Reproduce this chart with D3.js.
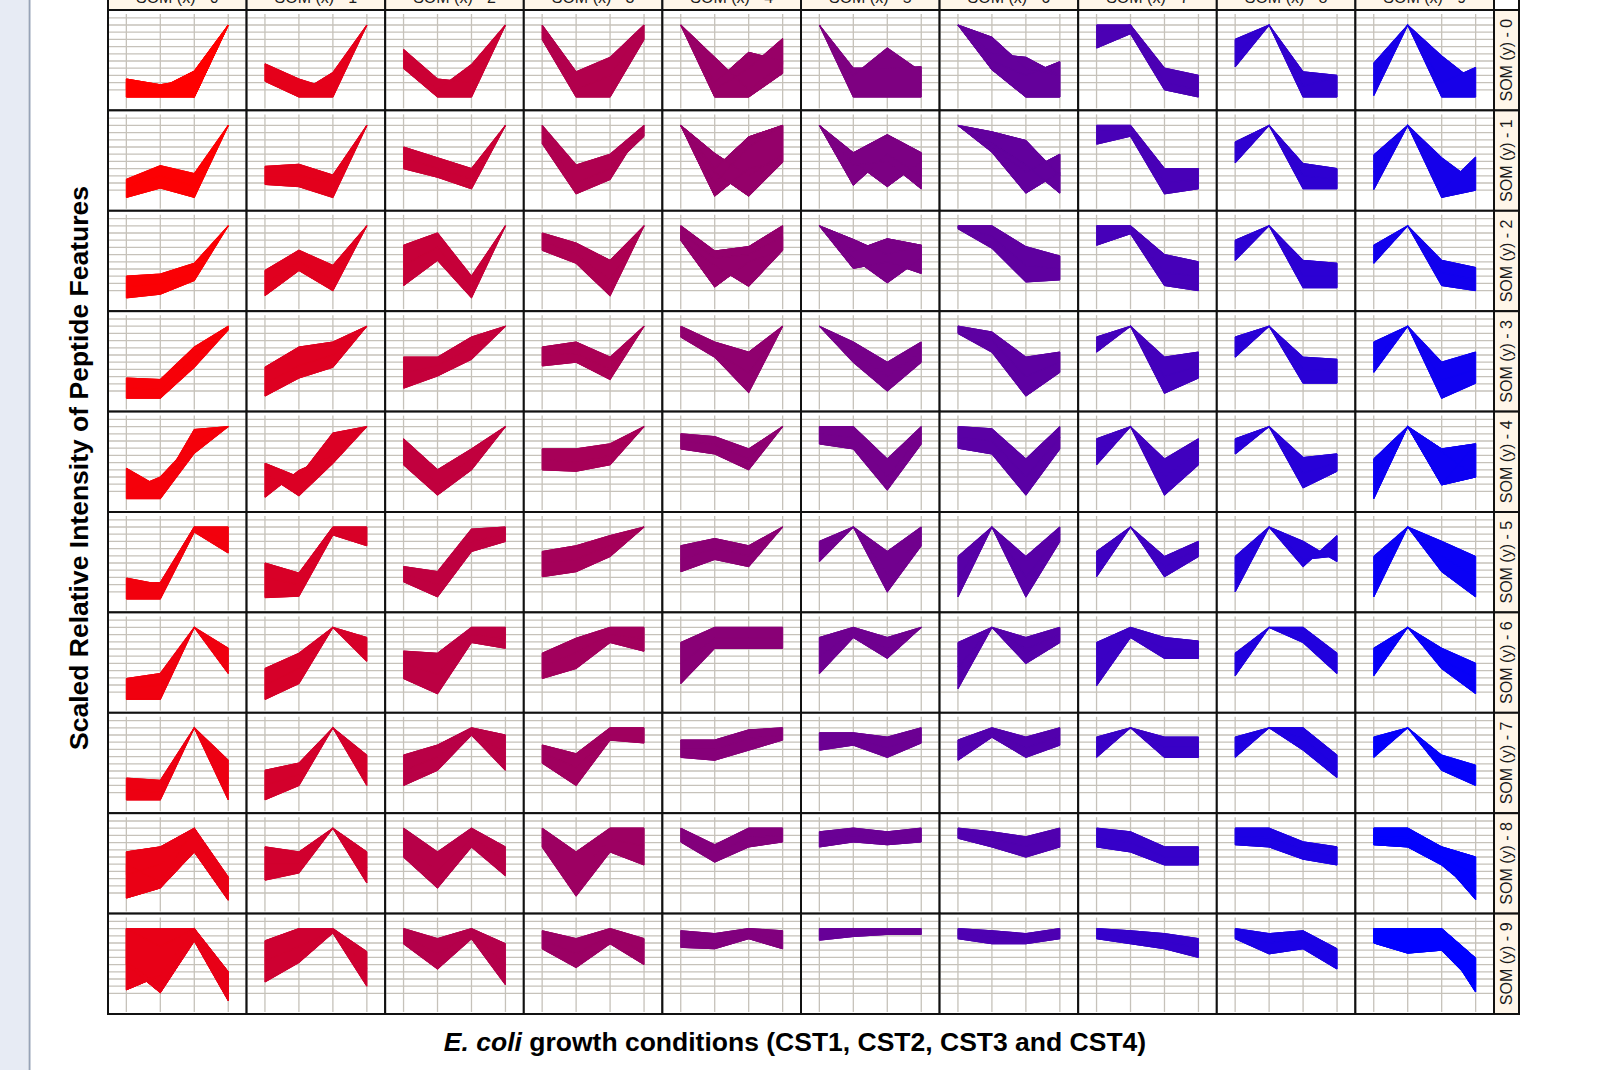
<!DOCTYPE html>
<html>
<head>
  <meta charset="utf-8">
  <title>SOM clusters of peptide features</title>
  <style>
    body { margin: 0; background: #fff; }
    text { font-family: "Liberation Sans", Arial, sans-serif; }
  </style>
</head>
<body>
<svg id="chart" width="1600" height="1070"></svg>
<script src="https://d3js.org/d3.v7.min.js"></script>
<script>
// growth conditions on the x axis of each panel
var conditions = ["CST1", "CST2", "CST3", "CST4"];
var colLabels = ["SOM (x) - 0", "SOM (x) - 1", "SOM (x) - 2", "SOM (x) - 3", "SOM (x) - 4",
                 "SOM (x) - 5", "SOM (x) - 6", "SOM (x) - 7", "SOM (x) - 8", "SOM (x) - 9"];
var rowLabels = ["SOM (y) - 0", "SOM (y) - 1", "SOM (y) - 2", "SOM (y) - 3", "SOM (y) - 4",
                 "SOM (y) - 5", "SOM (y) - 6", "SOM (y) - 7", "SOM (y) - 8", "SOM (y) - 9"];
var gridTicks = [0.1, 0.2, 0.3, 0.4, 0.5, 0.6, 0.7, 0.8, 0.9, 1.0, 1.1];

// each SOM cell: a few profiles (scaled intensity at CST1..CST4)
// the drawn bundle is everything between them
var somRow0 = [
  [[0.25,0.17,0.25,1],[0.1,0.12,0.36,1],[0,0,0,1],[0.2,0.15,0,1]],
  [[0.46,0.25,0.1,1],[0.3,0.05,0.34,1],[0.22,0,0,1]],
  [[0.66,0.25,0.2,1],[0.5,0.1,0.45,1],[0.4,0,0,1]],
  [[1,0.35,0.55,1],[0.8,0,0,0.8],[0.9,0.1,0.3,1]],
  [[1,0.55,0.1,0.45],[1,0.2,0.62,0.5],[1,0.1,0.4,0.81],[1,0,0,0.33]],
  [[1,0.4,0.4,0.42],[1,0.3,0.68,0.35],[1,0,0,0]],
  [[1,0.83,0.4,0.3],[1,0.6,0.55,0.3],[1,0.5,0.3,0.49],[1,0.38,0,0]],
  [[1,1,0.4,0.3],[0.68,0.88,0.1,0],[0.9,1,0.2,0.1]],
  [[0.8,1,0.35,0.3],[0.42,1,0,0],[0.6,1,0.15,0.28]],
  [[0.47,1,0.57,0.2],[0.02,1,0.2,0.41],[0.3,1,0,0]]
];
var somRow1 = [
  [[0.25,0.44,0.33,1],[0,0.13,0,1],[0.15,0.3,0.15,1]],
  [[0.43,0.46,0.31,1],[0.18,0.15,0,1],[0.3,0.3,0.2,1]],
  [[0.7,0.55,0.4,1],[0.4,0.28,0.12,1],[0.55,0.4,0.25,1]],
  [[1,0.45,0.6,1],[0.75,0.05,0.25,1],[0.9,0.2,0.4,0.85]],
  [[1,0.61,0.3,0.6],[1,0.4,0.84,1],[1,0.02,0.4,0.5],[1,0.35,0.02,0.49],[1,0.2,0.7,1]],
  [[1,0.62,0.87,0.62],[1,0.17,0.6,0.3],[1,0.5,0.15,0.5],[1,0.45,0.5,0.12]],
  [[1,0.91,0.79,0.3],[1,0.7,0.35,0.6],[1,0.63,0.06,0.35],[1,0.75,0.45,0.06]],
  [[1,1,0.4,0.4],[0.74,0.85,0.05,0.12],[0.95,0.9,0.2,0.25]],
  [[0.77,1,0.47,0.4],[0.48,1,0.12,0.12],[0.62,1,0.3,0.25]],
  [[0.59,1,0.55,0.2],[0.11,1,0.1,0.56],[0.35,1,0,0.1]]
];
var somRow2 = [
  [[0.3,0.33,0.48,1],[0,0.05,0.24,1],[0.15,0.2,0.35,1]],
  [[0.38,0.66,0.45,1],[0.03,0.38,0.1,1],[0.2,0.5,0.25,1]],
  [[0.73,0.9,0.3,1],[0.17,0.52,0,1],[0.45,0.7,0.15,1]],
  [[0.9,0.76,0.52,1],[0.66,0.48,0.03,1],[0.8,0.6,0.25,1]],
  [[1,0.65,0.71,1],[0.8,0.15,0.5,0.66],[0.8,0.45,0.16,0.66],[0.9,0.55,0.6,0.85]],
  [[1,0.81,0.6,0.73],[1,0.65,0.82,0.73],[1,0.41,0.5,0.34],[1,0.55,0.21,0.55]],
  [[1,1,0.71,0.58],[0.96,0.69,0.22,0.25],[1,0.85,0.45,0.4]],
  [[1,1,0.6,0.5],[0.73,0.89,0.17,0.1],[0.95,0.95,0.35,0.3]],
  [[0.8,1,0.52,0.48],[0.52,1,0.14,0.14],[0.66,1,0.3,0.3]],
  [[0.73,1,0.52,0.42],[0.48,1,0.17,0.1],[0.6,1,0.35,0.25]]
];
var somRow3 = [
  [[0.28,0.26,0.71,1],[0,0,0.43,0.95],[0.15,0.12,0.55,1]],
  [[0.43,0.71,0.78,1],[0.03,0.28,0.43,1],[0.2,0.45,0.6,1]],
  [[0.57,0.57,0.85,1],[0.14,0.31,0.54,1],[0.35,0.45,0.7,1]],
  [[0.71,0.78,0.57,1],[0.45,0.5,0.26,1],[0.6,0.62,0.4,1]],
  [[1,0.78,0.64,1],[0.85,0.57,0.08,1],[0.95,0.65,0.35,1]],
  [[1,0.78,0.5,0.78],[1,0.5,0.1,0.5],[1,0.65,0.3,0.65]],
  [[1,0.92,0.57,0.64],[0.9,0.64,0.03,0.36],[1,0.8,0.3,0.5]],
  [[0.85,1,0.57,0.64],[0.64,1,0.07,0.28],[0.75,1,0.3,0.45]],
  [[0.85,1,0.57,0.54],[0.57,1,0.21,0.21],[0.7,1,0.4,0.38]],
  [[0.78,1,0.5,0.64],[0.36,1,0,0.21],[0.55,1,0.25,0.4]]
];
var somRow4 = [
  [[0.42,0.15,0.96,1],[0.1,0.3,0.8,1],[0,0,0.63,1]],
  [[0.49,0.3,0.91,1],[0.02,0.39,0.6,1],[0.35,0.04,0.49,1]],
  [[0.83,0.4,0.69,1],[0.47,0.05,0.4,1],[0.65,0.2,0.55,1]],
  [[0.69,0.69,0.76,1],[0.4,0.38,0.47,1],[0.55,0.5,0.6,1]],
  [[0.9,0.86,0.69,1],[0.69,0.62,0.4,1],[0.8,0.75,0.55,1]],
  [[1,1,0.55,1],[0.76,0.69,0.12,0.76],[0.9,0.85,0.3,0.9]],
  [[1,0.97,0.55,1],[0.7,0.62,0.05,0.69],[0.85,0.8,0.3,0.85]],
  [[0.83,1,0.55,0.83],[0.47,1,0.05,0.47],[0.65,1,0.3,0.65]],
  [[0.83,1,0.57,0.62],[0.62,1,0.15,0.38],[0.72,1,0.35,0.5]],
  [[0.55,1,0.69,0.76],[0,1,0.19,0.3],[0.3,1,0.65,0.3],[0.3,1,0.2,0.76]]
];
var somRow5 = [
  [[0.29,0.2,1,1],[0,0,0.93,0.64],[0.2,0.23,1,0.8]],
  [[0.5,0.36,1,1],[0.02,0.04,0.89,0.74],[0.3,0.2,0.95,0.85]],
  [[0.45,0.38,0.97,1],[0.24,0.03,0.66,0.8],[0.35,0.2,0.8,0.9]],
  [[0.66,0.74,0.88,1],[0.31,0.38,0.59,1],[0.5,0.55,0.75,1]],
  [[0.74,0.84,0.74,1],[0.38,0.55,0.45,1],[0.55,0.7,0.6,1]],
  [[0.8,1,0.66,1],[0.52,1,0.1,0.74],[0.65,1,0.35,0.87]],
  [[0.59,1,0.59,1],[0.03,1,0.03,0.8],[0.3,1,0.3,0.9]],
  [[0.66,1,0.59,0.8],[0.31,1,0.31,0.59],[0.5,1,0.45,0.7]],
  [[0.59,1,0.8,0.52],[0.1,1,0.45,0.88],[0.35,1,0.55,0.6]],
  [[0.59,1,0.8,0.59],[0.03,1,0.38,0.03],[0.3,1,0.6,0.3]]
];
var somRow6 = [
  [[0.29,0.36,1,0.71],[0,0,1,0.36],[0.15,0.2,1,0.55]],
  [[0.43,0.64,1,0.86],[0,0.22,1,0.53],[0.2,0.43,1,0.7]],
  [[0.67,0.64,1,1],[0.29,0.08,0.79,0.71],[0.5,0.35,0.9,0.85]],
  [[0.64,0.85,1,1],[0.29,0.43,0.79,0.67],[0.45,0.65,0.9,0.85]],
  [[0.79,1,1,1],[0.22,0.71,0.71,0.71],[0.5,0.85,0.85,0.85]],
  [[0.86,1,0.86,1],[0.36,0.86,0.57,1],[0.6,0.93,0.7,1]],
  [[0.79,1,0.86,1],[0.15,1,0.5,0.79],[0.45,1,0.7,0.9]],
  [[0.79,1,0.86,0.81],[0.19,0.86,0.57,0.57],[0.5,0.93,0.7,0.7]],
  [[0.64,1,1,0.64],[0.33,1,0.79,0.36],[0.5,1,0.9,0.5]],
  [[0.71,1,0.71,0.5],[0.33,1,0.43,0.08],[0.5,1,0.55,0.3]]
];
var somRow7 = [
  [[0.3,0.27,1,0.55],[0,0,1,0],[0.15,0.1,1,0.3]],
  [[0.41,0.51,1,0.62],[0,0.2,1,0.2],[0.2,0.35,1,0.4]],
  [[0.62,0.76,1,0.9],[0.2,0.41,0.9,0.41],[0.4,0.6,0.95,0.65]],
  [[0.76,0.64,1,1],[0.51,0.2,0.83,0.79],[0.65,0.45,0.9,0.9]],
  [[0.83,0.83,0.97,1],[0.59,0.55,0.69,0.83],[0.7,0.7,0.85,0.9]],
  [[0.93,0.93,0.87,1],[0.69,0.76,0.59,0.79],[0.8,0.85,0.72,0.9]],
  [[0.83,1,0.87,1],[0.55,0.87,0.59,0.76],[0.7,0.93,0.72,0.88]],
  [[0.87,1,0.87,0.87],[0.59,1,0.59,0.59],[0.73,1,0.73,0.73]],
  [[0.87,1,1,0.62],[0.59,1,0.69,0.31],[0.73,1,0.85,0.45]],
  [[0.87,1,0.62,0.48],[0.59,1,0.41,0.2],[0.73,1,0.5,0.35]]
];
var somRow8 = [
  [[0.67,0.74,1,0.32],[0.03,0.17,0.67,0],[0.35,0.5,0.9,0.15],[0.5,0.25,1,0.2]],
  [[0.74,0.67,1,0.67],[0.28,0.38,1,0.24],[0.5,0.5,1,0.45]],
  [[1,0.67,1,0.74],[0.6,0.17,0.74,0.34],[0.8,0.4,0.87,0.55]],
  [[1,0.67,1,1],[0.74,0.06,0.67,0.49],[0.87,0.35,0.85,0.75]],
  [[1,0.77,1,1],[0.81,0.53,0.74,0.81],[0.9,0.65,0.87,0.9]],
  [[0.95,1,0.95,1],[0.74,0.81,0.77,0.81],[0.85,0.9,0.86,0.9]],
  [[1,0.95,0.88,1],[0.86,0.74,0.6,0.74],[0.93,0.85,0.75,0.87]],
  [[1,0.95,0.74,0.74],[0.74,0.67,0.49,0.49],[0.87,0.8,0.6,0.6]],
  [[1,1,0.81,0.74],[0.77,0.74,0.57,0.49],[0.88,0.87,0.7,0.6]],
  [[1,1,0.74,0.6],[0.77,0.74,0.49,0.1],[0.88,0.87,0.6,0.35],[0.85,0.8,0.55,0.01]]
];
var somRow9 = [
  [[1,1,1,0.4],[0.15,0.35,1,0.05],[0.5,0.11,0.83,0],[1,0.75,1,0.2],[0.55,0.2,0.9,0.1]],
  [[0.83,1,1,0.68],[0.26,0.53,0.94,0.2],[0.55,0.75,0.97,0.45]],
  [[1,0.86,1,0.79],[0.79,0.44,0.86,0.22],[0.9,0.65,0.93,0.5]],
  [[0.97,0.86,1,0.86],[0.72,0.46,0.79,0.5],[0.85,0.65,0.9,0.68]],
  [[0.97,0.93,1,0.97],[0.74,0.72,0.86,0.72],[0.85,0.82,0.93,0.85]],
  [[1,1,1,1],[0.84,0.89,0.92,0.92],[0.9,0.92,0.96,0.95]],
  [[1,0.97,0.93,1],[0.86,0.79,0.79,0.86],[0.93,0.88,0.86,0.93]],
  [[1,0.97,0.93,0.86],[0.86,0.79,0.72,0.6],[0.93,0.88,0.82,0.73]],
  [[1,0.93,0.97,0.72],[0.86,0.65,0.72,0.44],[0.93,0.8,0.85,0.58]],
  [[1,1,1,0.59],[0.8,0.66,0.7,0.22],[0.9,0.8,0.85,0.12],[1,0.75,0.8,0.4]]
];
var somRows = [somRow0, somRow1, somRow2, somRow3, somRow4,
               somRow5, somRow6, somRow7, somRow8, somRow9];

// layout
var gridL = 108, gridR = 1494, gridT = 10, gridB = 1014;
var stripW = 25;
var colW = (gridR - gridL) / 10;
var rowH = (gridB - gridT) / 10;
var gridColor = "#c6c2ba";
var stripFill = "#fff6e9";

var svg = d3.select("#chart");

// light frame at the far left
svg.append("rect").attr("x", 0).attr("y", 0).attr("width", 28).attr("height", 1070).attr("fill", "#e7ebf4");
svg.append("line").attr("x1", 29.5).attr("x2", 29.5).attr("y1", 0).attr("y2", 1070)
  .attr("stroke", "#97a3b7").attr("stroke-width", 2);

// scales inside one panel
var x = d3.scalePoint().domain(conditions).range([0, colW]).padding(0.54);
var y = d3.scaleLinear().domain([0, 1]).range([87, 15]);

// cluster colour runs red -> blue over the cluster number 10*x + y
var colour = d3.scaleLinear().domain([0, 99]).range(["#ff0000", "#0000ff"]).interpolate(d3.interpolateRgb);

var band = d3.area()
  .x(function(d, k) { return x(conditions[k]); });
var line = d3.line()
  .x(function(d, k) { return x(conditions[k]); })
  .y(function(d) { return y(d); });

var panels = svg.append("g");
somRows.forEach(function(row, ry) {
  row.forEach(function(profiles, cx) {
    var g = panels.append("g")
      .attr("transform", "translate(" + (gridL + cx * colW) + "," + (gridT + ry * rowH) + ")");
    g.append("rect").attr("width", colW).attr("height", rowH).attr("fill", "#fff");

    // background grid
    g.append("g").selectAll("line").data(gridTicks).join("line")
      .attr("x1", 1).attr("x2", colW - 1)
      .attr("y1", function(d) { return y(d); }).attr("y2", function(d) { return y(d); })
      .attr("stroke", gridColor).attr("stroke-width", 1.3);
    g.append("g").selectAll("line").data(conditions).join("line")
      .attr("x1", function(d) { return x(d); }).attr("x2", function(d) { return x(d); })
      .attr("y1", 4).attr("y2", rowH - 2)
      .attr("stroke", gridColor).attr("stroke-width", 1.3);

    var c = colour(cx * 10 + ry);
    // fill between every pair of profiles -> union is the bundle
    var pairs = [];
    for (var a = 0; a < profiles.length; a++)
      for (var b = a + 1; b < profiles.length; b++) pairs.push([profiles[a], profiles[b]]);
    g.append("g").selectAll("path").data(pairs).join("path")
      .attr("d", function(p) {
        return band.y0(function(d, k) { return y(p[0][k]); })
                   .y1(function(d, k) { return y(p[1][k]); })(conditions);
      })
      .attr("fill", c).attr("stroke", c).attr("stroke-width", 0.8).attr("stroke-linejoin", "round");
    g.append("g").selectAll("path").data(profiles).join("path")
      .attr("d", line).attr("fill", "none").attr("stroke", c).attr("stroke-width", 1.2);

    g.append("rect").attr("width", colW).attr("height", rowH)
      .attr("fill", "none").attr("stroke", "#111").attr("stroke-width", 2);
  });
});

// top strips (partly cut by the page edge, as in the original)
var topStrip = svg.append("g");
topStrip.selectAll("rect").data(colLabels).join("rect")
  .attr("x", function(d, i) { return gridL + i * colW; }).attr("y", -15)
  .attr("width", colW).attr("height", 25)
  .attr("fill", stripFill).attr("stroke", "#111").attr("stroke-width", 2);
topStrip.selectAll("text").data(colLabels).join("text")
  .attr("x", function(d, i) { return gridL + (i + 0.5) * colW; }).attr("y", -2.5)
  .attr("text-anchor", "middle").attr("dominant-baseline", "central")
  .attr("font-size", 16).attr("fill", "#1a1a1a")
  .text(function(d) { return d; });
svg.append("rect").attr("x", gridR).attr("y", -15).attr("width", stripW).attr("height", 25)
  .attr("fill", "#fff").attr("stroke", "#111").attr("stroke-width", 2);

// right strips
var sideStrip = svg.append("g");
sideStrip.selectAll("rect").data(rowLabels).join("rect")
  .attr("x", gridR).attr("y", function(d, i) { return gridT + i * rowH; })
  .attr("width", stripW).attr("height", rowH)
  .attr("fill", stripFill).attr("stroke", "#111").attr("stroke-width", 2);
sideStrip.selectAll("text").data(rowLabels).join("text")
  .attr("transform", function(d, i) {
    return "translate(" + (gridR + stripW / 2) + "," + (gridT + (i + 0.5) * rowH) + ") rotate(-90)";
  })
  .attr("text-anchor", "middle").attr("dominant-baseline", "central")
  .attr("font-size", 16).attr("fill", "#1a1a1a")
  .text(function(d) { return d; });

// axis titles
svg.append("text")
  .attr("transform", "translate(88,468) rotate(-90)")
  .attr("text-anchor", "middle")
  .attr("font-size", 26.5).attr("font-weight", "bold")
  .text("Scaled Relative Intensity of Peptide Features");

var xt = svg.append("text")
  .attr("x", 795).attr("y", 1051)
  .attr("text-anchor", "middle")
  .attr("font-size", 26.5).attr("font-weight", "bold");
xt.append("tspan").attr("font-style", "italic").text("E. coli");
xt.append("tspan").text(" growth conditions (CST1, CST2, CST3 and CST4)");
</script>
</body>
</html>
